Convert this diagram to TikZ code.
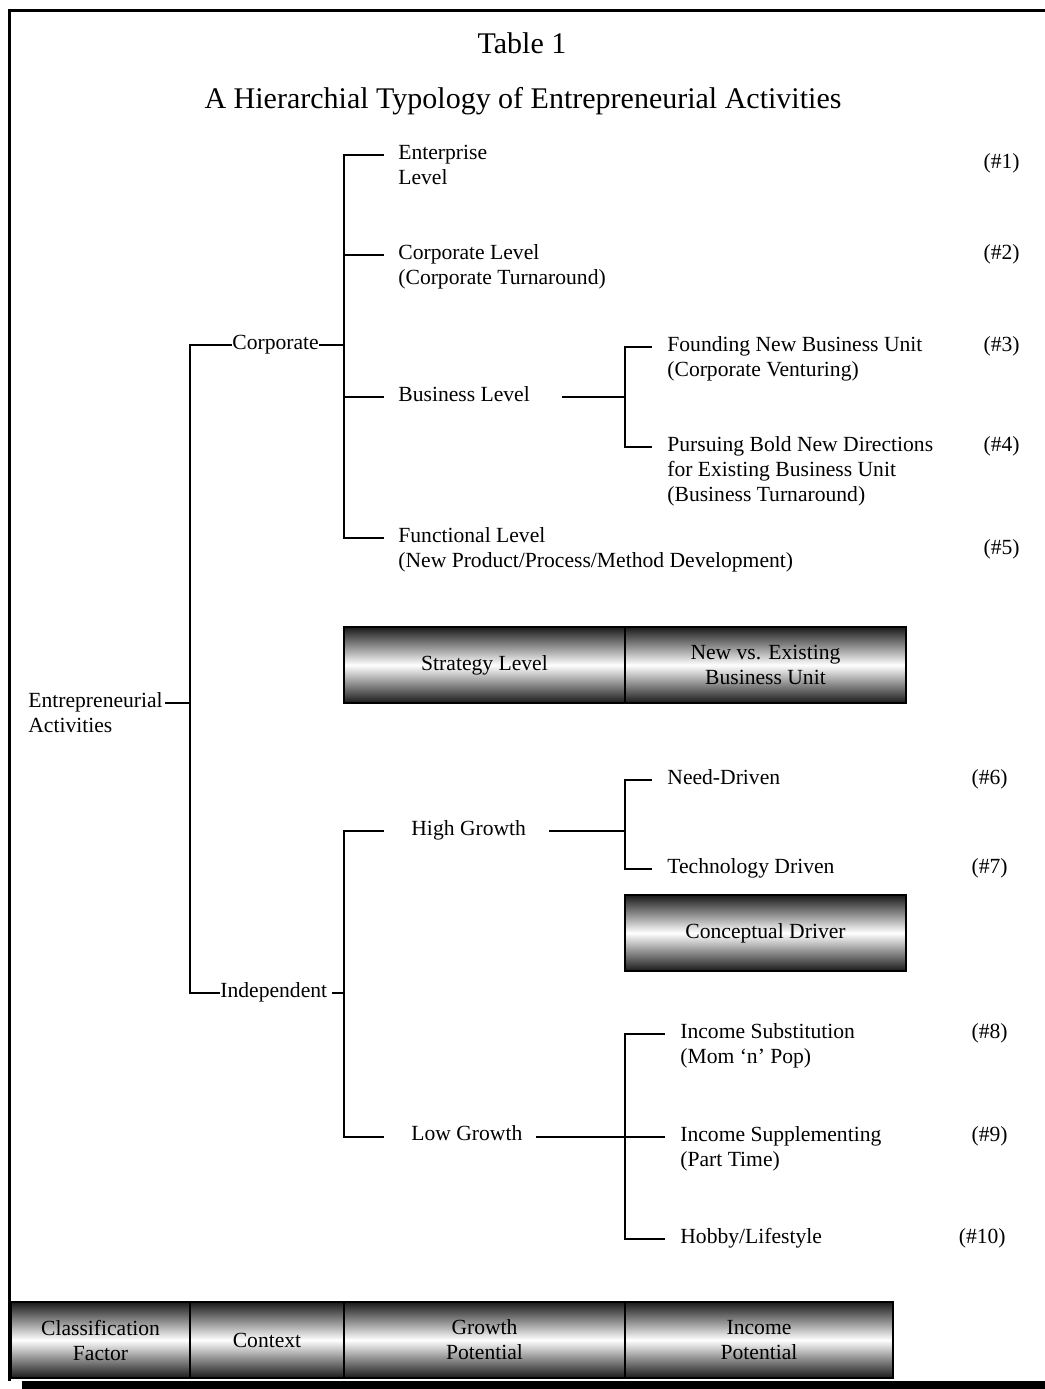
\documentclass[tikz,border=0pt]{standalone}
\usepackage{fontspec}
\setmainfont{Liberation Serif}
\usetikzlibrary{positioning}
\newcommand{\bodyfont}{\fontsize{10.8}{12.5}\selectfont}
\newcommand{\titlefont}{\fontsize{15}{18}\selectfont}
\newcommand{\txtlines}[1]{\begin{tabular}[t]{@{}l@{}}#1\end{tabular}}

\begin{document}
\begin{tikzpicture}[x=0.5pt,y=-0.5pt,
  lbl/.style={anchor=base west,inner sep=0pt,font=\bodyfont},
  num/.style={anchor=base east,inner sep=0pt,font=\bodyfont},
  tube/.style={draw,line width=0.6pt,top color=black!90,bottom color=black!90,
    middle color=white,minimum height=38pt,inner sep=0pt,outer sep=0pt,
    align=center,font=\bodyfont},
  tree/.style={line width=1pt}]
\useasboundingbox (0,0) rectangle (1045,1389);

\draw[line width=1.5pt] (1045,10.8) -| (9.5,1381);
\fill (22,1381) rectangle (1045,1389);

\node[anchor=base,font=\titlefont] (t1) at (522,53) {Table 1};
\node[anchor=base,font=\titlefont] (t2) at (523,108) {A Hierarchial Typology of Entrepreneurial Activities};

\node[lbl] (ea) at (28,707) {\txtlines{Entrepreneurial\\Activities}};
\node[lbl] (corp) at (232,349) {Corporate};
\node[lbl] (ind) at (220,997) {Independent};

\node[lbl] (ent) at (398,159) {\txtlines{Enterprise\\Level}};
\node[lbl] (cl) at (398,259) {\txtlines{Corporate Level\\(Corporate Turnaround)}};
\node[lbl] (bl) at (398,401) {Business Level};
\node[lbl] (fl) at (398,542) {\txtlines{Functional Level\\(New Product/Process/Method Development)}};
\node[lbl] (fnb) at (667,351) {\txtlines{Founding New Business Unit\\(Corporate Venturing)}};
\node[lbl] (pbd) at (667,451) {\txtlines{Pursuing Bold New Directions\\for Existing Business Unit\\(Business Turnaround)}};

\node[lbl] (hg) at (411,835) {High Growth};
\node[lbl] (nd) at (667,784) {Need-Driven};
\node[lbl] (td) at (667,873) {Technology Driven};
\node[lbl] (lg) at (411,1140) {Low Growth};
\node[lbl] (is) at (680,1038) {\txtlines{Income Substitution\\(Mom `n' Pop)}};
\node[lbl] (isp) at (680,1141) {\txtlines{Income Supplementing\\(Part Time)}};
\node[lbl] (hob) at (680,1243) {Hobby/Lifestyle};

\node[num] (n1) at (1020,168) {(\#1)};
\node[num] (n2) at (1020,259) {(\#2)};
\node[num] (n3) at (1020,351) {(\#3)};
\node[num] (n4) at (1020,451) {(\#4)};
\node[num] (n5) at (1020,554) {(\#5)};
\node[num] (n6) at (1008,784) {(\#6)};
\node[num] (n7) at (1008,873) {(\#7)};
\node[num] (n8) at (1008,1038) {(\#8)};
\node[num] (n9) at (1008,1141) {(\#9)};
\node[num] (n10) at (1006,1243) {(\#10)};

\coordinate (ea-t) at (165,703);
\coordinate (j0) at (190,703);
\coordinate (jc) at (344,345);
\coordinate (ji) at (344,993);
\draw[tree] (ea-t) -- (j0);
\draw[tree] (jc -| corp.west) -| (j0) |- (ji -| ind.west);
\draw[tree] (jc -| corp.east) -- (jc);
\draw[tree] ([xshift=2pt]ji -| ind.east) -- (ji);

\coordinate (tp1) at (384,155);
\coordinate (tp2) at (384,255);
\coordinate (tp3) at (384,397);
\coordinate (tp5) at (384,538);
\draw[tree] (tp1) -| (jc) |- (tp5);
\draw[tree] (tp2) -- (tp2 -| jc);
\draw[tree] (tp3) -- (tp3 -| jc);

\coordinate (bl-t) at (562,397);
\coordinate (jb) at (625,397);
\coordinate (tp3a) at (652,347);
\coordinate (tp3b) at (652,447);
\draw[tree] (bl-t) -- (jb);
\draw[tree] (tp3a) -| (jb) |- (tp3b);

\coordinate (tp6) at (384,831);
\coordinate (tp8) at (384,1137);
\draw[tree] (tp6) -| (ji) |- (tp8);

\coordinate (hg-t) at (549,831);
\coordinate (jh) at (625,831);
\coordinate (tp6a) at (652,780);
\coordinate (tp6b) at (652,869);
\draw[tree] (hg-t) -- (jh);
\draw[tree] (tp6a) -| (jh) |- (tp6b);

\coordinate (lg-t) at (536,1137);
\coordinate (jl) at (625,1137);
\coordinate (tp8a) at (665,1034);
\coordinate (tp8b) at (665,1137);
\coordinate (tp8c) at (665,1239);
\draw[tree] (lg-t) -- (tp8b);
\draw[tree] (tp8a) -| (jl) |- (tp8c);

\node[tube,minimum width=140.5pt] (sl) at (484.5,665) {Strategy Level};
\node[tube,minimum width=140.5pt] (nve) [right=0pt of sl] {New vs. Existing\\Business Unit};
\node[tube,minimum width=140.5pt] (cd) at (765.5,933) {Conceptual Driver};

\node[tube,minimum width=89.5pt] (cf) at (100.5,1340) {Classification\\Factor};
\node[tube,minimum width=77pt] (ctx) [right=0pt of cf] {Context};
\node[tube,minimum width=140.5pt] (gp) [right=0pt of ctx] {Growth\\Potential};
\node[tube,minimum width=134pt] (ip) [right=0pt of gp] {Income\\Potential};
\end{tikzpicture}
\end{document}
